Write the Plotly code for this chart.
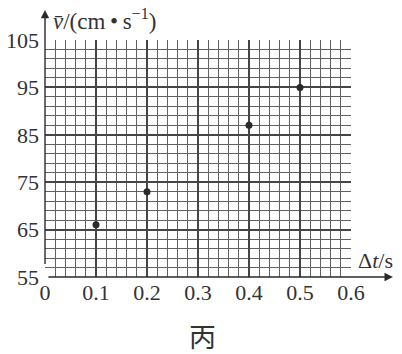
import plotly.graph_objects as go

# data
dt_values = [0.1, 0.2, 0.4, 0.5]
v_values = [66, 73, 87, 95]
x_ticks = [0, 0.1, 0.2, 0.3, 0.4, 0.5, 0.6]
x_tick_text = ["0", "0.1", "0.2", "0.3", "0.4", "0.5", "0.6"]
y_ticks = [55, 65, 75, 85, 95, 105]
y_tick_text = ["55", "65", "75", "85", "95", "105"]

SERIF = "Liberation Serif"
INK = "#2a2a2a"
TXT = "#333333"

fig = go.Figure()
fig.add_trace(go.Scatter(
    x=dt_values, y=v_values, mode="markers",
    marker=dict(size=7, color=INK),
    showlegend=False, hoverinfo="skip",
))

fig.update_layout(
    width=402, height=354,
    margin=dict(l=45, r=51, t=40, b=77),
    paper_bgcolor="white", plot_bgcolor="white",
    font=dict(family=SERIF, size=22, color=TXT),
    xaxis=dict(
        range=[0, 0.6], tickvals=x_ticks, ticktext=x_tick_text,
        showgrid=True, gridcolor="#454545", gridwidth=1.5,
        minor=dict(tick0=0, dtick=0.02, showgrid=True, gridcolor="#606060", gridwidth=1.3),
        zeroline=False, showline=False, ticks="", automargin=False,
        tickfont=dict(family=SERIF, size=22, color=TXT),
    ),
    yaxis=dict(
        range=[55, 105], tickvals=y_ticks, ticktext=y_tick_text,
        showgrid=True, gridcolor="#454545", gridwidth=1.5,
        minor=dict(tick0=55, dtick=2, showgrid=True, gridcolor="#606060", gridwidth=1.3),
        zeroline=False, showline=False, ticks="", automargin=False,
        ticklabelstandoff=5,
        tickfont=dict(family=SERIF, size=22, color=TXT),
    ),
)

# axis arrows
fig.add_annotation(xref="paper", yref="paper", x=0, y=1.127, ax=0, ay=268,
                   showarrow=True, arrowhead=2, arrowsize=1.2, arrowwidth=1.4,
                   arrowcolor=INK, text=" ")
fig.add_annotation(xref="paper", yref="paper", x=1.137, y=0, ax=-349, ay=0,
                   showarrow=True, arrowhead=2, arrowsize=1.2, arrowwidth=1.4,
                   arrowcolor=INK, text=" ")

# axis titles
fig.add_annotation(xref="paper", yref="paper", x=0.02, y=1.085, xanchor="left", yanchor="middle",
                   showarrow=False,
                   text="<i>v\u0304</i>/(cm\u2009\u2022\u2009s<sup>\u22121</sup>)",
                   font=dict(family=SERIF, size=23, color=TXT))
fig.add_annotation(xref="paper", yref="paper", x=1.015, y=0.07, xanchor="left", yanchor="middle",
                   showarrow=False, text="\u0394<i>t</i>/s",
                   font=dict(family=SERIF, size=22, color=TXT))

# caption
fig.add_annotation(xref="paper", yref="paper", x=0.515, y=-0.245, xanchor="center", yanchor="middle",
                   showarrow=False, text="丙",
                   font=dict(family="Noto Sans CJK SC", size=27, color=TXT))

fig.write_html("out.html")
